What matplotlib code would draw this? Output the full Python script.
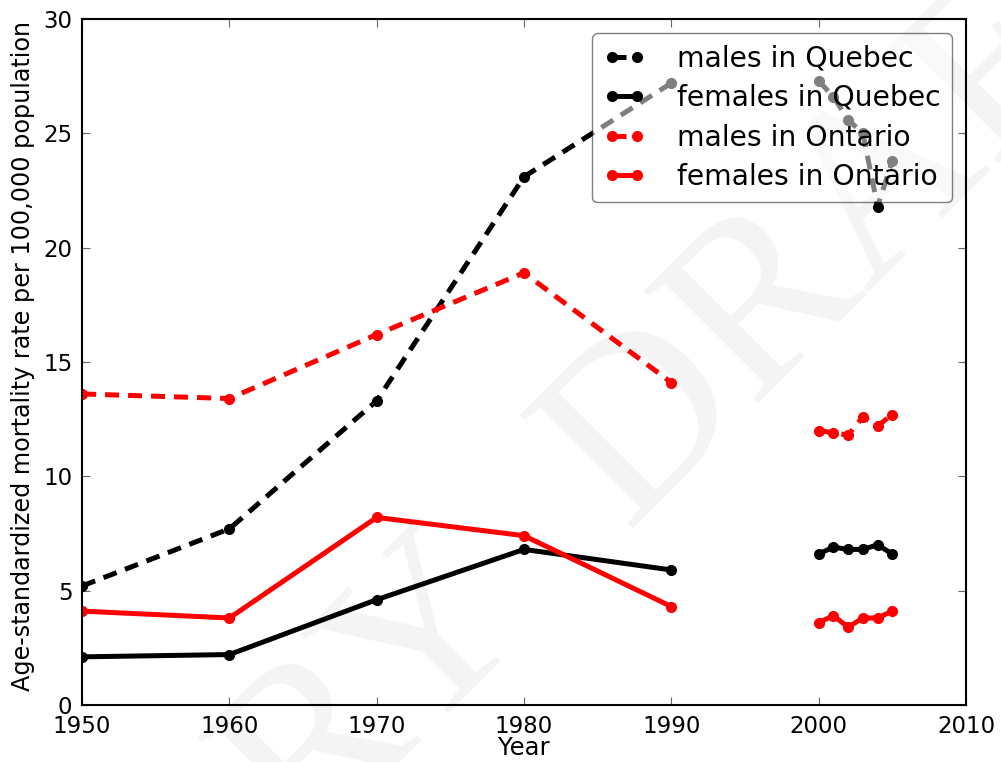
import matplotlib
matplotlib.use("Agg")
import matplotlib.pyplot as plt

# decade values, 1950-1990
years_a = [1950, 1960, 1970, 1980, 1990]
males_qc_a = [5.2, 7.7, 13.3, 23.1, 27.2]
females_qc_a = [2.1, 2.2, 4.6, 6.8, 5.9]
males_on_a = [13.6, 13.4, 16.2, 18.9, 14.1]
females_on_a = [4.1, 3.8, 8.2, 7.4, 4.3]

# yearly values, 2000-2005
years_b = [2000, 2001, 2002, 2003, 2004, 2005]
males_qc_b = [27.3, 26.6, 25.6, 25.0, 21.8, 23.8]
females_qc_b = [6.6, 6.9, 6.8, 6.8, 7.0, 6.6]
males_on_b = [12.0, 11.9, 11.8, 12.6, 12.2, 12.7]
females_on_b = [3.6, 3.9, 3.4, 3.8, 3.8, 4.1]

series = [
    ("males in Quebec", males_qc_a, males_qc_b, "black", "--"),
    ("females in Quebec", females_qc_a, females_qc_b, "black", "-"),
    ("males in Ontario", males_on_a, males_on_b, "red", "--"),
    ("females in Ontario", females_on_a, females_on_b, "red", "-"),
]

plt.rcParams["font.family"] = ["DejaVu Sans"]

fig = plt.figure(figsize=(10.01, 7.62), dpi=100)
ax = fig.add_axes([0.082, 0.075, 0.883, 0.9])
ax.patch.set_facecolor("none")

# watermark behind everything
wm = dict(rotation=45, rotation_mode="anchor", va="baseline", fontsize=176,
          family="Liberation Serif", color="#f4f4f4", zorder=-5)
fig.text(0.626, 0.306, "DRAFT", ha="left", **wm)
fig.text(0.535, 0.188, "PRELIMINARY", ha="right", **wm)

for label, ya, yb, col, ls in series:
    kw = dict(color=col, linestyle=ls, linewidth=3.6, marker="o",
              markersize=7, markeredgecolor=col, markerfacecolor=col)
    if ls == "--":
        kw["dashes"] = (2.8, 1.8)
    ax.plot(years_a, ya, label=label, **kw)
    ax.plot(years_b, yb, **kw)

ax.set_xlim(1950, 2010)
ax.set_ylim(0, 30)
ax.set_xticks(range(1950, 2011, 10))
ax.set_yticks(range(0, 31, 5))
ax.tick_params(direction="in", length=6, width=0.8, color="0.4",
               top=True, right=True, labelsize=16.5, pad=7)
for sp in ax.spines.values():
    sp.set_linewidth(1.5)

ax.set_xlabel("Year", fontsize=17.5, labelpad=-1)
ax.set_ylabel("Age-standardized mortality rate per 100,000 population",
              fontsize=17.2)
ax.yaxis.set_label_coords(-0.053, 0.508)

leg = ax.legend(loc="upper right", fontsize=20.3, numpoints=2, fancybox=True,
                framealpha=0.5, edgecolor="black", handlelength=1.5,
                handletextpad=1.1, labelspacing=0.41, borderpad=0.4)

fig.savefig("out.png", dpi=100)
